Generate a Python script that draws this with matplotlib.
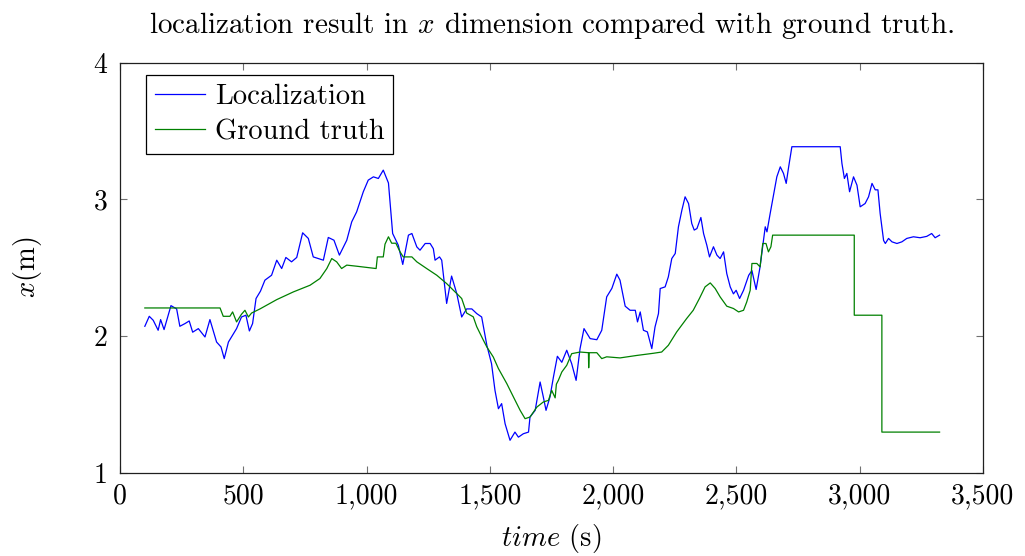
import matplotlib
matplotlib.use("Agg")
import matplotlib.pyplot as plt
from matplotlib.ticker import FuncFormatter

plt.rcParams['font.family'] = 'serif'
plt.rcParams['font.serif'] = ['cmr10', 'DejaVu Serif']
plt.rcParams['mathtext.fontset'] = 'cm'
plt.rcParams['axes.unicode_minus'] = False

loc_t = [101, 119, 135, 155, 165, 179, 207, 230, 243, 264, 281, 295, 318, 345, 365, 392, 410, 423, 440, 473,
         493, 511, 525, 538, 552, 570, 588, 615, 636, 656, 673, 696, 717, 741, 764, 784, 805, 825, 845, 868,
         890, 920, 940, 960, 987, 1007, 1028, 1048, 1068, 1089, 1106, 1129, 1147, 1170, 1184, 1204, 1217, 1238,
         1258, 1271, 1278, 1296, 1305, 1325, 1345, 1366, 1386, 1406, 1427, 1447, 1467, 1488, 1507, 1521, 1535,
         1548, 1562, 1582, 1602, 1616, 1636, 1657, 1663, 1684, 1704, 1717, 1728, 1744, 1758, 1774, 1792, 1812,
         1832, 1850, 1866, 1882, 1907, 1934, 1954, 1974, 1995, 2015, 2028, 2049, 2069, 2090, 2099, 2110, 2123,
         2139, 2157, 2170, 2184, 2191, 2211, 2224, 2238, 2252, 2265, 2279, 2292, 2306, 2319, 2329, 2340, 2356,
         2367, 2380, 2391, 2407, 2421, 2434, 2448, 2461, 2475, 2488, 2499, 2513, 2529, 2550, 2563, 2580, 2596,
         2617, 2624, 2637, 2664, 2678, 2691, 2702, 2712, 2725, 2921, 2928, 2938, 2948, 2959, 2975, 2989, 3002,
         3022, 3036, 3050, 3063, 3074, 3083, 3097, 3104, 3117, 3131, 3151, 3171, 3191, 3218, 3245, 3272, 3292,
         3306, 3324]
loc_x = [2.073, 2.146, 2.117, 2.044, 2.122, 2.049, 2.224, 2.20, 2.073, 2.093, 2.112, 2.03, 2.056, 1.995, 2.122,
         1.958, 1.922, 1.837, 1.958, 2.056, 2.141, 2.154, 2.039, 2.093, 2.276, 2.33, 2.41, 2.446, 2.556, 2.495,
         2.576, 2.544, 2.576, 2.756, 2.715, 2.58, 2.568, 2.556, 2.722, 2.702, 2.593, 2.702, 2.836, 2.909, 3.056,
         3.141, 3.165, 3.153, 3.214, 3.12, 2.751, 2.665, 2.525, 2.739, 2.751, 2.653, 2.629, 2.678, 2.678, 2.64,
         2.556, 2.58, 2.556, 2.24, 2.44, 2.312, 2.141, 2.20, 2.20, 2.166, 2.141, 1.934, 1.80, 1.605, 1.471,
         1.508, 1.361, 1.24, 1.30, 1.263, 1.288, 1.30, 1.41, 1.459, 1.666, 1.557, 1.459, 1.557, 1.702, 1.854,
         1.81, 1.898, 1.80, 1.678, 1.91, 2.056, 1.983, 1.975, 2.044, 2.288, 2.35, 2.454, 2.41, 2.22, 2.19, 2.19,
         2.105, 2.178, 2.044, 2.032, 1.91, 2.068, 2.166, 2.349, 2.361, 2.434, 2.568, 2.605, 2.80, 2.922, 3.019,
         2.97, 2.824, 2.776, 2.787, 2.868, 2.75, 2.666, 2.58, 2.654, 2.593, 2.568, 2.617, 2.458, 2.361, 2.31,
         2.336, 2.276, 2.336, 2.446, 2.48, 2.342, 2.507, 2.80, 2.763, 2.897, 3.165, 3.238, 3.19, 3.117, 3.238,
         3.385, 3.385, 3.263, 3.153, 3.19, 3.056, 3.165, 3.104, 2.946, 2.97, 3.019, 3.117, 3.07, 3.07, 2.897,
         2.70, 2.678, 2.715, 2.69, 2.678, 2.69, 2.715, 2.727, 2.72, 2.73, 2.751, 2.72, 2.739]

gt_t = [101, 406, 419, 446, 457, 473, 493, 507, 521, 534, 568, 636, 703, 771, 811, 839, 859, 879, 899, 920,
        960, 1039, 1044, 1068, 1075, 1089, 1102, 1119, 1136, 1149, 1184, 1204, 1244, 1285, 1325, 1366, 1386,
        1406, 1433, 1447, 1474, 1488, 1514, 1535, 1569, 1596, 1623, 1643, 1663, 1691, 1717, 1738, 1751, 1765,
        1770, 1778, 1792, 1812, 1832, 1866, 1900, 1901, 1903, 1934, 1954, 1974, 2028, 2096, 2164, 2197, 2224,
        2258, 2298, 2325, 2350, 2373, 2394, 2414, 2434, 2461, 2488, 2509, 2529, 2542, 2556, 2563, 2583, 2596,
        2607, 2620, 2630, 2640, 2647, 2978, 2978, 3090, 3090, 3324]
gt_x = [2.207, 2.207, 2.146, 2.146, 2.178, 2.105, 2.161, 2.19, 2.141, 2.17, 2.20, 2.268, 2.324, 2.373, 2.422,
        2.495, 2.568, 2.544, 2.495, 2.52, 2.512, 2.495, 2.58, 2.58, 2.673, 2.727, 2.68, 2.68, 2.617, 2.58,
        2.58, 2.544, 2.495, 2.446, 2.385, 2.312, 2.276, 2.17, 2.142, 2.07, 1.971, 1.922, 1.849, 1.764, 1.654,
        1.556, 1.459, 1.398, 1.41, 1.483, 1.52, 1.532, 1.605, 1.55, 1.65, 1.678, 1.739, 1.788, 1.873, 1.885,
        1.88, 1.77, 1.88, 1.88, 1.837, 1.85, 1.842, 1.86, 1.876, 1.885, 1.934, 2.032, 2.129, 2.19, 2.276,
        2.361, 2.39, 2.349, 2.288, 2.22, 2.203, 2.178, 2.19, 2.251, 2.336, 2.532, 2.532, 2.507, 2.678, 2.678,
        2.617, 2.654, 2.739, 2.739, 2.154, 2.154, 1.30, 1.30]

x_ticks = [0, 500, 1000, 1500, 2000, 2500, 3000, 3500]
y_ticks = [1, 2, 3, 4]

fig = plt.figure(figsize=(10.25, 5.56), dpi=100)
ax = fig.add_axes([0.117, 0.149, 0.842, 0.7385])

ax.plot(loc_t, loc_x, color='#0000ff', lw=0.9, label='Localization')
ax.plot(gt_t, gt_x, color='#008000', lw=0.9, label='Ground truth')

ax.set_xlim(0, 3500)
ax.set_ylim(1, 4)
ax.set_xticks(x_ticks)
ax.set_yticks(y_ticks)
ax.xaxis.set_major_formatter(FuncFormatter(lambda v, p: f"{int(v):,}"))
ax.yaxis.set_major_formatter(FuncFormatter(lambda v, p: f"{int(v)}"))
ax.tick_params(direction='in', top=True, right=True, length=5, width=0.8,
               color='#707070', labelsize=20)
ax.tick_params(axis='x', pad=7)
ax.tick_params(axis='y', pad=9)
for s in ax.spines.values():
    s.set_linewidth(0.9)
    s.set_color('#202020')

ax.set_title(r"localization result in $x$ dimension compared with ground truth.",
             fontsize=21, pad=21)
ax.set_xlabel(r"$time$ (s)", fontsize=20.5)
ax.xaxis.set_label_coords(0.5, -0.118)
ax.set_ylabel(r"$x$(m)", fontsize=20.5)
ax.yaxis.set_label_coords(-0.088, 0.5)

leg = ax.legend(loc='upper left', bbox_to_anchor=(0.03, 0.97), fontsize=20.5,
                frameon=True, fancybox=False, edgecolor='black', framealpha=1,
                handlelength=1.75, handletextpad=0.35, borderpad=0.32,
                labelspacing=0.3, borderaxespad=0)
leg.get_frame().set_linewidth(0.9)

fig.savefig("out.png", dpi=100)
